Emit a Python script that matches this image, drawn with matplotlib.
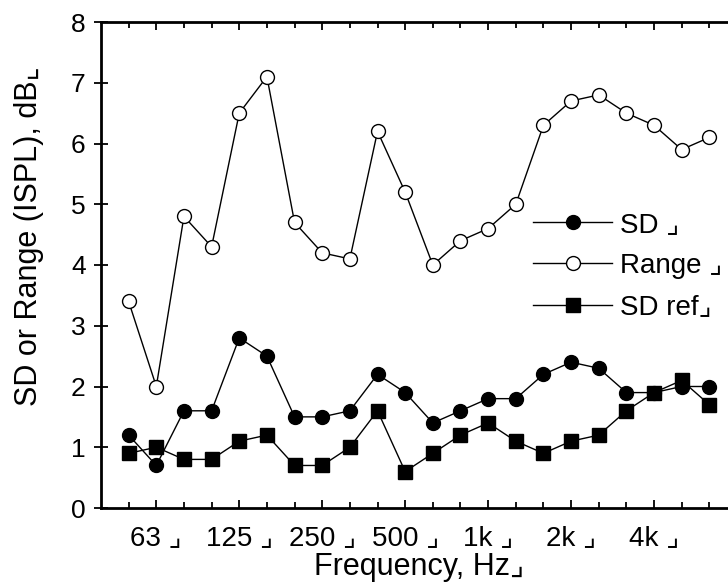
import numpy as np
import matplotlib
matplotlib.use("Agg")
import matplotlib.pyplot as plt

plt.rcParams['font.family'] = ['Liberation Sans', 'DejaVu Sans']

# third-octave bands 50 Hz ... 6.3 kHz
freqs = ['50', '63', '80', '100', '125', '160', '200', '250', '315', '400', '500',
         '630', '800', '1k', '1.25k', '1.6k', '2k', '2.5k', '3.15k', '4k', '5k', '6.3k']
labelled = ['63', '125', '250', '500', '1k', '2k', '4k']

sd = [1.2, 0.7, 1.6, 1.6, 2.8, 2.5, 1.5, 1.5, 1.6, 2.2, 1.9,
      1.4, 1.6, 1.8, 1.8, 2.2, 2.4, 2.3, 1.9, 1.9, 2.0, 2.0]
rng = [3.4, 2.0, 4.8, 4.3, 6.5, 7.1, 4.7, 4.2, 4.1, 6.2, 5.2,
       4.0, 4.4, 4.6, 5.0, 6.3, 6.7, 6.8, 6.5, 6.3, 5.9, 6.1]
sd_ref = [0.9, 1.0, 0.8, 0.8, 1.1, 1.2, 0.7, 0.7, 1.0, 1.6, 0.6,
          0.9, 1.2, 1.4, 1.1, 0.9, 1.1, 1.2, 1.6, 1.9, 2.1, 1.7]

x = np.arange(len(freqs))

fig = plt.figure(figsize=(7.28, 5.88), dpi=100)
W, H = 728, 588
ax = fig.add_axes([101 / W, (H - 508) / H, (737 - 101) / W, (508 - 22) / H])

ax.plot(x, sd, color='black', lw=1, marker='o', ms=10, mfc='black', mec='black',
        label='SD \u231f', zorder=3)
ax.plot(x, rng, color='black', lw=1, marker='o', ms=10, mfc='white', mec='black',
        mew=1, label='Range \u231f', zorder=3)
ax.plot(x, sd_ref, color='black', lw=1, marker='s', ms=9.5, mfc='black', mec='black',
        label='SD ref\u231f', zorder=4)

ax.set_xlim(-1, 22)
ax.set_ylim(0, 8)

major = [freqs.index(f) for f in labelled]
ax.set_xticks(major)
ax.set_xticklabels([f + ' \u231f' for f in labelled], fontsize=20)
ax.set_xticks(x, minor=True)
ax.set_yticks(range(0, 9))
ax.set_yticklabels([str(v) for v in range(0, 9)], fontsize=19)

ax.tick_params(axis='x', which='major', direction='in', length=6, width=1.3,
               top=True, bottom=True, pad=12)
ax.tick_params(axis='x', which='minor', direction='in', length=4, width=1.3,
               top=True, bottom=True)
ax.tick_params(axis='y', which='major', direction='in', length=6, width=1.3,
               left=True, right=True, labelleft=True, pad=6)
ax.tick_params(axis='y', which='major', left=True, direction='inout', length=10)

for s in ax.spines.values():
    s.set_linewidth(2)

ax.set_xlabel('Frequency, Hz\u231f', fontsize=22, labelpad=1)
ax.set_ylabel('SD or Range (ISPL), dB\u231e', fontsize=22)
ax.yaxis.set_label_coords((44 - 101) / 636, (508 - 236) / 486)

ax.legend(loc='center left', bbox_to_anchor=(533 / W, 1 - 266 / H),
          bbox_transform=fig.transFigure, frameon=False, fontsize=20,
          handlelength=2.85, handletextpad=0.3, labelspacing=0.55,
          borderpad=0, borderaxespad=0, numpoints=1)

fig.savefig('out.png', dpi=100)
